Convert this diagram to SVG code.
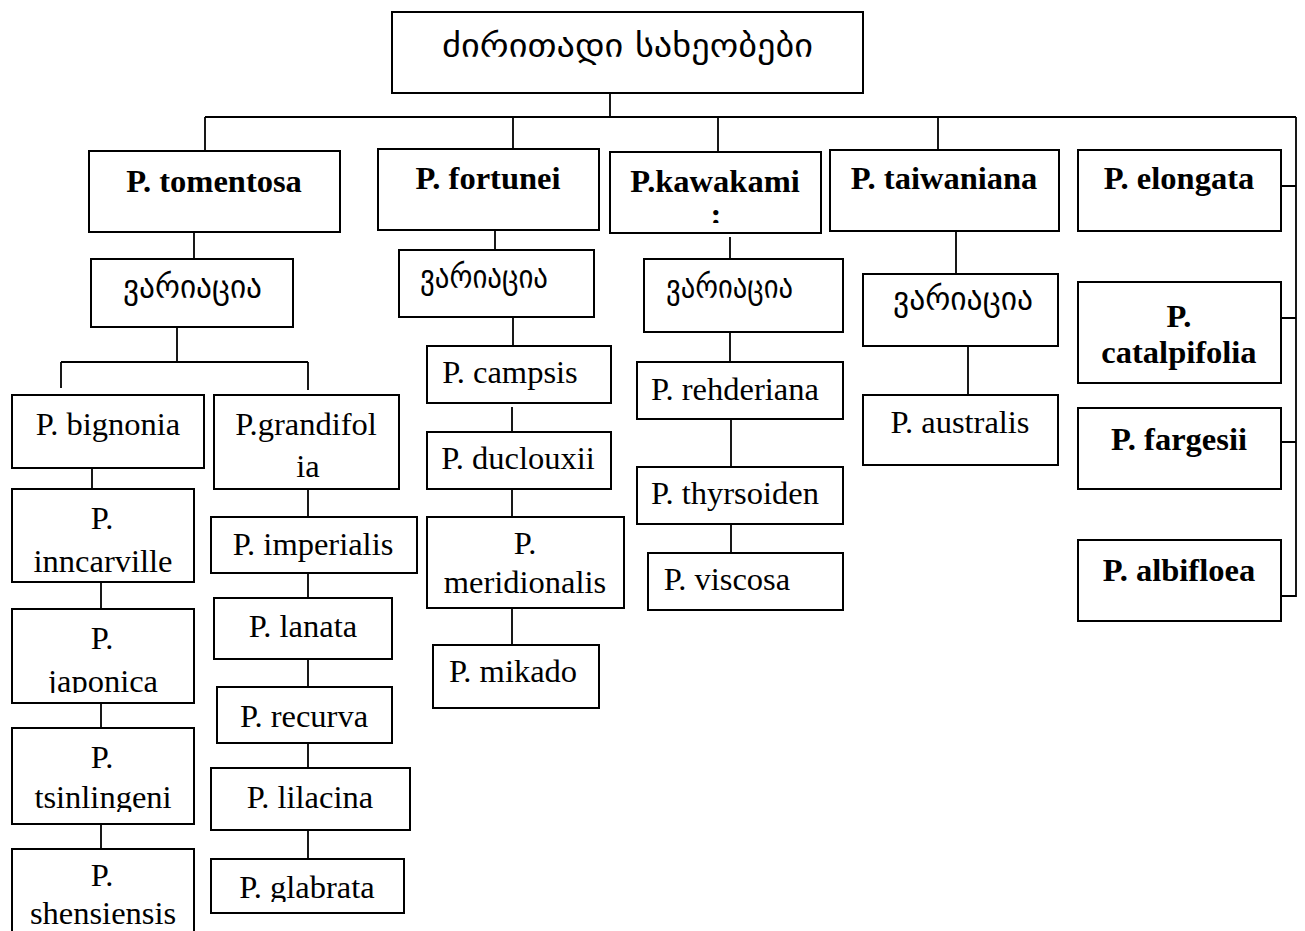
<svg xmlns="http://www.w3.org/2000/svg" width="1305" height="931" viewBox="0 0 1305 931">
<style>
.box{fill:#fff;stroke:#000;stroke-width:2}
.ln{stroke:#000;stroke-width:1.8;fill:none}
.b{font-family:"Liberation Serif","Times New Roman",serif;font-weight:bold;font-size:32.5px;text-anchor:middle;fill:#000}
.r{font-family:"Liberation Serif","Times New Roman",serif;font-size:32.5px;text-anchor:middle;fill:#000}
.g{font-family:"DejaVu Sans","Noto Sans",sans-serif;font-size:32px;fill:#000}
</style>
<defs>
<clipPath id="cKaw"><rect x="610" y="152" width="211" height="71"/></clipPath>
<clipPath id="cJap"><rect x="12" y="609" width="182" height="84"/></clipPath>
<clipPath id="cTsi"><rect x="12" y="728" width="182" height="84"/></clipPath>
<clipPath id="cGla"><rect x="211" y="859" width="193" height="43"/></clipPath>
</defs>
<rect width="1305" height="931" fill="#fff"/>
<g id="connectors">
<path class="ln" d="M610 93V117M205 117H1296M205 117V151M513 117V149M718 117V152M938 117V150M1296 117V597"/>
<path class="ln" d="M1281 186H1296M1281 318H1296M1281 442H1296M1281 596H1296"/>
<path class="ln" d="M194 232V259M177 327V362M61 362H308M61 362V388M308 362V390"/>
<path class="ln" d="M92 468V489M101 579V609M101 703V728M101 824V849"/>
<path class="ln" d="M308 489V517M308 573V598M308 659V687M308 743V768M308 830V859"/>
<path class="ln" d="M495 230V250M513 317V346M512 407V432M512 489V517M512 608V645"/>
<path class="ln" d="M730 237V259M730 332V362M731 419V467M731 524V553"/>
<path class="ln" d="M956 231V274M968 346V395"/>
</g>
<g id="root"><rect class="box" x="392" y="12" width="471" height="81"/><text class="g" x="442" y="57" font-size="35" textLength="371" lengthAdjust="spacingAndGlyphs">ძირითადი სახეობები</text></g>
<g id="tomentosa"><rect class="box" x="89" y="151" width="251" height="81"/><text class="b" x="214" y="192">P. tomentosa</text></g>
<g id="fortunei"><rect class="box" x="378" y="149" width="221" height="81"/><text class="b" x="488" y="189">P. fortunei</text></g>
<g id="kawakami"><rect class="box" x="610" y="152" width="211" height="81"/><g clip-path="url(#cKaw)"><text class="b" x="715" y="192">P.kawakami</text><text class="b" x="716" y="225">:</text></g></g>
<g id="taiwaniana"><rect class="box" x="830" y="150" width="229" height="81"/><text class="b" x="944" y="189">P. taiwaniana</text></g>
<g id="elongata"><rect class="box" x="1078" y="150" width="203" height="81"/><text class="b" x="1179" y="189">P. elongata</text></g>
<g id="catalpifolia"><rect class="box" x="1078" y="282" width="203" height="101"/><text class="b" x="1179" y="327">P.</text><text class="b" x="1179" y="363">catalpifolia</text></g>
<g id="fargesii"><rect class="box" x="1078" y="408" width="203" height="81"/><text class="b" x="1179" y="450">P. fargesii</text></g>
<g id="albifloea"><rect class="box" x="1078" y="540" width="203" height="81"/><text class="b" x="1179" y="581">P. albifloea</text></g>
<g id="var-tomentosa"><rect class="box" x="91" y="259" width="202" height="68"/><text class="g" x="123" y="298" textLength="139" lengthAdjust="spacingAndGlyphs">ვარიაცია</text></g>
<g id="var-fortunei"><rect class="box" x="399" y="250" width="195" height="67"/><text class="g" x="420" y="288" textLength="128" lengthAdjust="spacingAndGlyphs">ვარიაცია</text></g>
<g id="var-kawakami"><rect class="box" x="644" y="259" width="199" height="73"/><text class="g" x="666" y="298" textLength="127" lengthAdjust="spacingAndGlyphs">ვარიაცია</text></g>
<g id="var-taiwaniana"><rect class="box" x="863" y="274" width="195" height="72"/><text class="g" x="893" y="310" textLength="140" lengthAdjust="spacingAndGlyphs">ვარიაცია</text></g>
<g id="bignonia"><rect class="box" x="12" y="395" width="192" height="73"/><text class="r" x="108" y="435">P. bignonia</text></g>
<g id="inncarville"><rect class="box" x="12" y="489" width="182" height="93"/><text class="r" x="102" y="529">P.</text><text class="r" x="103" y="572">inncarville</text></g>
<g id="japonica"><rect class="box" x="12" y="609" width="182" height="94"/><g clip-path="url(#cJap)"><text class="r" x="102" y="649">P.</text><text class="r" x="103" y="692">japonica</text></g></g>
<g id="tsinlingeni"><rect class="box" x="12" y="728" width="182" height="96"/><g clip-path="url(#cTsi)"><text class="r" x="102" y="768">P.</text><text class="r" x="103" y="808">tsinlingeni</text></g></g>
<g id="shensiensis"><path class="box" d="M12 932V849H194V932"/><text class="r" x="102" y="886">P.</text><text class="r" x="103" y="924">shensiensis</text></g>
<g id="grandifolia"><rect class="box" x="214" y="395" width="185" height="94"/><text class="r" x="306" y="435">P.grandifol</text><text class="r" x="308" y="477">ia</text></g>
<g id="imperialis"><rect class="box" x="211" y="517" width="206" height="56"/><text class="r" x="313" y="555">P. imperialis</text></g>
<g id="lanata"><rect class="box" x="214" y="598" width="178" height="61"/><text class="r" x="303" y="637">P. lanata</text></g>
<g id="recurva"><rect class="box" x="217" y="687" width="175" height="56"/><text class="r" x="304" y="727">P. recurva</text></g>
<g id="lilacina"><rect class="box" x="211" y="768" width="199" height="62"/><text class="r" x="310" y="808">P. lilacina</text></g>
<g id="glabrata"><rect class="box" x="211" y="859" width="193" height="54"/><g clip-path="url(#cGla)"><text class="r" x="307" y="898">P. glabrata</text></g></g>
<g id="campsis"><rect class="box" x="427" y="346" width="184" height="57"/><text class="r" x="510" y="383">P. campsis</text></g>
<g id="duclouxii"><rect class="box" x="427" y="432" width="184" height="57"/><text class="r" x="518" y="469">P. duclouxii</text></g>
<g id="meridionalis"><rect class="box" x="427" y="517" width="197" height="91"/><text class="r" x="525" y="554">P.</text><text class="r" x="525" y="593">meridionalis</text></g>
<g id="mikado"><rect class="box" x="433" y="645" width="166" height="63"/><text class="r" x="513" y="682">P. mikado</text></g>
<g id="rehderiana"><rect class="box" x="637" y="362" width="206" height="57"/><text class="r" x="735" y="400">P. rehderiana</text></g>
<g id="thyrsoiden"><rect class="box" x="637" y="467" width="206" height="57"/><text class="r" x="735" y="504">P. thyrsoiden</text></g>
<g id="viscosa"><rect class="box" x="648" y="553" width="195" height="57"/><text class="r" x="727" y="590">P. viscosa</text></g>
<g id="australis"><rect class="box" x="863" y="395" width="195" height="70"/><text class="r" x="960" y="433">P. australis</text></g>
</svg>
